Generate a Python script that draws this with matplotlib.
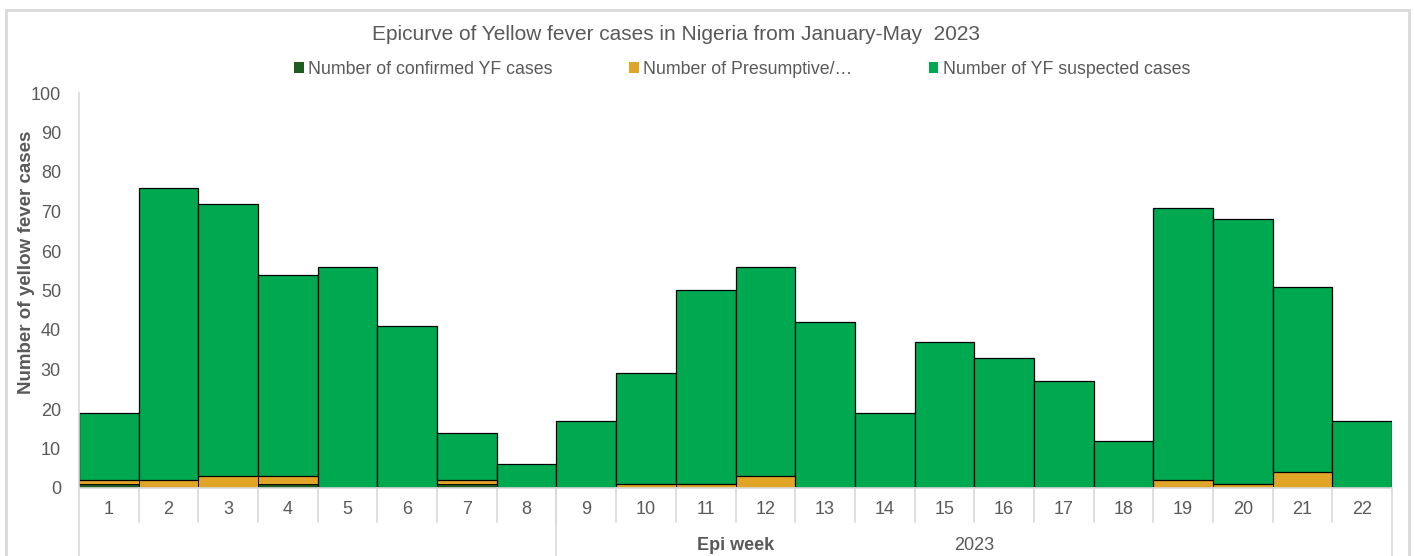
import matplotlib.pyplot as plt
import matplotlib.patches as mpatches
import numpy as np

plt.rcParams['font.family'] = ['Liberation Sans', 'DejaVu Sans']

# Epi weeks and case counts
weeks = [str(w) for w in range(1, 23)]
confirmed = [1, 0, 0, 1, 0, 0, 1, 0, 0, 0, 0, 0, 0, 0, 0, 0, 0, 0, 0, 0, 0, 0]
presumptive = [1, 2, 3, 2, 0, 0, 1, 0, 0, 1, 1, 3, 0, 0, 0, 0, 0, 0, 2, 1, 4, 0]
totals = [19, 76, 72, 54, 56, 41, 14, 6, 17, 29, 50, 56, 42, 19, 37, 33, 27, 12, 71, 68, 51, 17]
suspected = [t - c - p for t, c, p in zip(totals, confirmed, presumptive)]

group_labels = ['', '2023']
group_starts = [0, 8]

grey = '#595959'
light = '#D9D9D9'

fig = plt.figure(figsize=(14.15, 5.56), dpi=100)
ax = fig.add_axes([79 / 1415, 1 - 488 / 556, (1392 - 79) / 1415, (488 - 93) / 556])

x = np.arange(len(weeks))
conf = np.array(confirmed)
pres = np.array(presumptive)
susp = np.array(suspected)

ax.bar(x, conf, width=1.0, color='#1E5C20', edgecolor='black',
       linewidth=[0.8 if v > 0 else 0 for v in conf], label='Number of confirmed YF cases')
ax.bar(x, pres, width=1.0, bottom=conf, color='#E0A526', edgecolor='black',
       linewidth=[0.6 if v > 0 else 0 for v in pres], label='Number of Presumptive/…')
ax.bar(x, susp, width=1.0, bottom=conf + pres, color='#00A84F', edgecolor='black',
       linewidth=0.9, label='Number of YF suspected cases')

ax.set_xlim(-0.5, len(weeks) - 0.5)
ax.set_ylim(0, 100)
ax.set_yticks(range(0, 101, 10))
ax.set_xticks(x)
ax.set_xticklabels(weeks)
ax.tick_params(axis='both', length=0, labelsize=13, labelcolor=grey)
ax.tick_params(axis='y', pad=13)
ax.tick_params(axis='x', pad=9)

for side in ['top', 'right']:
    ax.spines[side].set_visible(False)
ax.spines['left'].set_color(light)
ax.spines['bottom'].set_color(light)
ax.spines['left'].set_linewidth(1.2)
ax.spines['bottom'].set_linewidth(1.2)

# category separators and group separators below the axis
tr = ax.get_xaxis_transform()
sep_low = -34 / 395
bottom = -0.2
for i in range(1, len(weeks)):
    ax.plot([i - 0.5, i - 0.5], [0, sep_low], transform=tr, color=light, lw=1.2, clip_on=False)
for s in group_starts + [len(weeks)]:
    ax.plot([s - 0.5, s - 0.5], [0, bottom], transform=tr, color=light, lw=1.2, clip_on=False)
group_ends = group_starts[1:] + [len(weeks)]
for lab, s, e in zip(group_labels, group_starts, group_ends):
    ax.text((s + e - 1) / 2, -57 / 395, lab, transform=tr, ha='center', va='center',
            fontsize=13, color=grey)

fig.text((79 + 1392) / 2 / 1415, 1 - 545 / 556, 'Epi week', ha='center', va='center',
         fontsize=13, fontweight='bold', color=grey)
fig.text(27 / 1415, 1 - 262 / 556, 'Number of yellow fever cases', rotation=90,
         ha='center', va='center', fontsize=13.5, fontweight='bold', color=grey)
fig.text(676 / 1415, 1 - 35 / 556, 'Epicurve of Yellow fever cases in Nigeria from January-May  2023',
         ha='center', va='center', fontsize=15, color=grey)

fig.legend(loc='center', bbox_to_anchor=(742 / 1415, 1 - 69 / 556), ncol=3, frameon=False,
           fontsize=12.8, labelcolor=grey, handlelength=0.55, handleheight=0.55,
           handletextpad=0.25, columnspacing=4.3, borderpad=0)
for h in fig.legends[0].legend_handles:
    h.set_linewidth(0)

# light grey chart border
fig.add_artist(mpatches.Rectangle((6 / 1415, -0.05), (1409 - 6) / 1415, 1.05 - 10 / 556,
                                  transform=fig.transFigure, fill=False, edgecolor=light, lw=2))

fig.savefig('out.png', dpi=100)
